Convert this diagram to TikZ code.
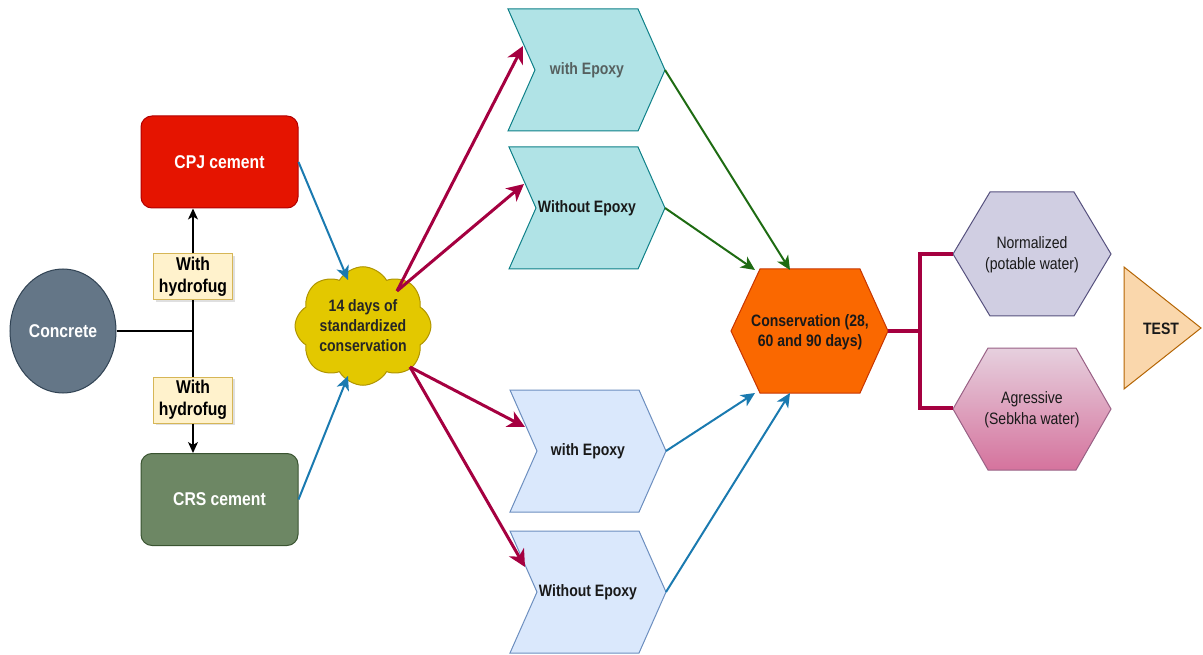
\documentclass[tikz,border=0pt]{standalone}
\usepackage{fontspec}
\setmainfont{Liberation Sans}[FakeStretch=0.85]
\usetikzlibrary{arrows.meta,shapes.geometric,shapes.symbols,shadows}
\definecolor{cpjF}{HTML}{E51400}\definecolor{cpjD}{HTML}{B20000}
\definecolor{crsF}{HTML}{6D8764}\definecolor{crsD}{HTML}{3A5431}
\definecolor{conF}{HTML}{647687}\definecolor{conD}{HTML}{314354}
\definecolor{hyF}{HTML}{FFF2CC}\definecolor{hyD}{HTML}{D6B656}
\definecolor{clF}{HTML}{E3C800}\definecolor{clD}{HTML}{B09500}
\definecolor{tqF}{HTML}{B0E3E6}\definecolor{tqD}{HTML}{0E8088}
\definecolor{lbF}{HTML}{DAE8FC}\definecolor{lbD}{HTML}{6C8EBF}
\definecolor{orF}{HTML}{FA6800}\definecolor{orD}{HTML}{C73500}
\definecolor{puF}{HTML}{D0CEE2}\definecolor{puD}{HTML}{56517E}
\definecolor{pkT}{HTML}{E6D0DE}\definecolor{pkB}{HTML}{D5739D}\definecolor{pkD}{HTML}{996185}
\definecolor{trF}{HTML}{FAD7AC}\definecolor{trD}{HTML}{B46504}
\definecolor{redL}{HTML}{A50040}\definecolor{bluL}{HTML}{1A7AB0}\definecolor{grnL}{HTML}{1E6B12}
\definecolor{grayT}{HTML}{56605F}
\begin{document}
\begin{tikzpicture}[x=1pt,y=-1pt,
  big/.style={font=\fontsize{18.5}{22}\selectfont\bfseries,align=center},
  mid/.style={font=\fontsize{16.5}{20}\selectfont\bfseries,align=center},
  midr/.style={font=\fontsize{16.5}{21}\selectfont,align=center},
  cembox/.style={big,rounded corners=11pt,minimum width=157pt,minimum height=92pt,line width=1pt,text=white},
  hybox/.style={big,fill=hyF,draw=hyD,line width=1pt,minimum width=79pt,minimum height=46pt,inner sep=0pt,
     drop shadow={opacity=0.25,shadow xshift=2pt,shadow yshift=-2pt}},
  blk/.style={line width=1.3pt,black},
  blkar/.style={blk,-{Stealth[length=11pt,width=10pt,inset=3pt]}},
  redar/.style={line width=3pt,redL,-{Stealth[length=17pt,width=17pt,inset=5pt]}},
  bluar/.style={line width=2pt,bluL,-{Stealth[length=14pt,width=13pt,inset=4pt]}},
  grnar/.style={line width=2pt,grnL,-{Stealth[length=14pt,width=13pt,inset=4pt]}},
  chevA/.style={fill=tqF,draw=tqD,line width=1pt},
  chevB/.style={fill=lbF,draw=lbD,line width=1pt}]
\useasboundingbox (0,0) rectangle (1203,655);

% left part
\node[ellipse,fill=conF,draw=conD,line width=1pt,minimum width=106pt,minimum height=124pt,inner sep=0pt,big,text=white] (conc) at (63,331) {Concrete};
\node[cembox,fill=cpjF,draw=cpjD] (cpj) at (219.5,162) {CPJ cement};
\node[cembox,fill=crsF,draw=crsD] (crs) at (219.5,499.5) {CRS cement};
\coordinate (junc) at (193,331);
\node[hybox] (h1) at (193,277) {With\\hydrofug};
\node[hybox] (h2) at (193,400) {With\\hydrofug};
\draw[blk] (conc.east) -- (junc);
\draw[blk] (junc) -- (h1.south);
\draw[blk] (junc) -- (h2.north);
\draw[blkar] (h1.north) -- (h1.north |- cpj.south);
\draw[blkar] (h2.south) -- (h2.south |- crs.north);

% cloud
\node[cloud,cloud puffs=8,cloud puff arc=120,aspect=1.25,fill=clF,draw=clD,line width=1pt,
      minimum width=133pt,minimum height=110pt,inner sep=0pt,mid,text=black!85] (cloud) at (363,326)
      {14 days of\\standardized\\conservation};
\coordinate (clIn1) at (348,280);
\coordinate (clIn2) at (348,376);
\coordinate (clOut1) at (397,291);
\coordinate (clOut2) at (410,367);
\draw[bluar] (cpj.east) -- (clIn1);
\draw[bluar] (crs.east) -- (clIn2);

% chevrons
\draw[chevA] (508,9) -- (638,9) -- (665,70) -- (638,131) -- (508,131) -- (535,70) -- cycle;
\node[mid,text=grayT] (c1) at (587,70) {with Epoxy};
\coordinate (c1in) at (523,46); \coordinate (c1out) at (665,70);
\draw[chevA] (509,147) -- (638,147) -- (665,208) -- (638,269) -- (509,269) -- (536,208) -- cycle;
\node[mid,text=black!90] (c2) at (587,208) {Without Epoxy};
\coordinate (c2in) at (524,184); \coordinate (c2out) at (665,208);
\draw[chevB] (510,390) -- (639,390) -- (666,451) -- (639,512) -- (510,512) -- (537,451) -- cycle;
\node[mid,text=black!90] (c3) at (588,451) {with Epoxy};
\coordinate (c3in) at (525,427); \coordinate (c3out) at (666,451);
\draw[chevB] (510,531) -- (639,531) -- (666,592) -- (639,653) -- (510,653) -- (537,592) -- cycle;
\node[mid,text=black!90] (c4) at (588,592) {Without Epoxy};
\coordinate (c4in) at (525,567); \coordinate (c4out) at (666,592);

\draw[redar] (clOut1) -- (c1in);
\draw[redar] (clOut1) -- (c2in);
\draw[redar] (clOut2) -- (c3in);
\draw[redar] (clOut2) -- (c4in);

% conservation hexagon
\draw[fill=orF,draw=orD,line width=1pt] (731,331) -- (760,269) -- (860,269) -- (888,331) -- (860,393) -- (760,393) -- cycle;
\node[mid,text=black!90] (cons) at (810,332) {Conservation (28,\\60 and 90 days)};
\coordinate (consT1) at (755,270); \coordinate (consT2) at (790,270);
\coordinate (consB1) at (755,393); \coordinate (consB2) at (790,393);
\coordinate (consR) at (888,331);
\draw[grnar] (c1out) -- (consT2);
\draw[grnar] (c2out) -- (consT1);
\draw[bluar] (c3out) -- (consB1);
\draw[bluar] (c4out) -- (consB2);

% water hexagons
\draw[fill=puF,draw=puD,line width=1pt] (953,254) -- (990,192) -- (1074,192) -- (1111,254) -- (1074,316) -- (990,316) -- cycle;
\node[midr,text=black!90] (norm) at (1032,255) {Normalized\\(potable water)};
\coordinate (normL) at (953,254);
\draw[top color=pkT,bottom color=pkB,draw=pkD,line width=1pt] (953,409) -- (988,348) -- (1076,348) -- (1111,409) -- (1076,470) -- (988,470) -- cycle;
\node[midr,text=black!90] (agr) at (1032,410) {Agressive\\(Sebkha water)};
\coordinate (agrL) at (953,408);
\coordinate (split) at (920,331);
\draw[line width=3.5pt,redL,line join=miter] (consR) -- (split);
\draw[line width=3.5pt,redL,line join=miter] (normL) -- (split |- normL) -- (split |- agrL) -- (agrL);

% test
\draw[fill=trF,draw=trD,line width=1pt] (1124,267) -- (1201,328) -- (1124,389) -- cycle;
\node[mid,text=black!90] (test) at (1161,329) {TEST};
\end{tikzpicture}
\end{document}
